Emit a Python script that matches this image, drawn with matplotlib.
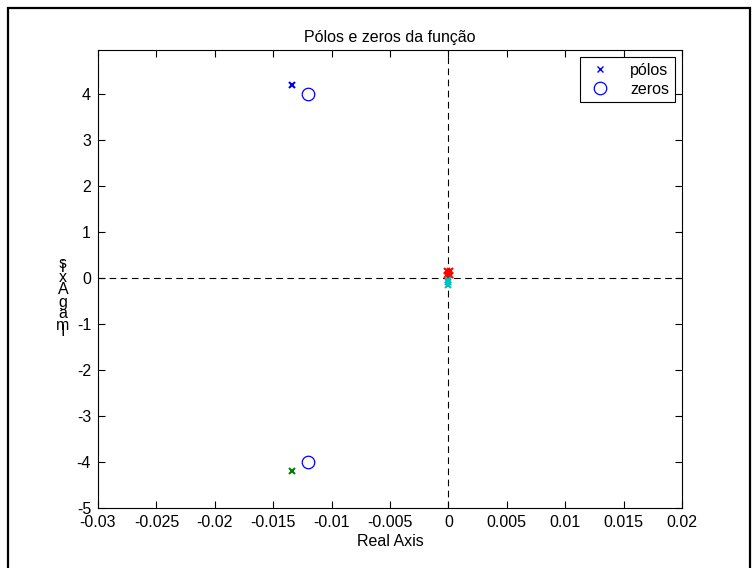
import matplotlib
matplotlib.use("Agg")
import matplotlib.pyplot as plt
from matplotlib.patches import Rectangle

plt.rcParams['font.family'] = ['Liberation Sans', 'DejaVu Sans']
plt.rcParams['axes.unicode_minus'] = False

# poles and zeros
poles_up_re, poles_up_im = [-0.0134], [4.2]
poles_dn_re, poles_dn_im = [-0.0134], [-4.2]
zeros_re = [-0.012, -0.012]
zeros_im = [4.0, -4.0]
near_red_re = [-0.0001, 0.0001, -0.0001, 0.0001]
near_red_im = [0.06, 0.06, 0.14, 0.14]
near_cyan_re = [0.0, 0.0, 0.0]
near_cyan_im = [-0.04, -0.1, -0.16]

xticks = [-0.03, -0.025, -0.02, -0.015, -0.01, -0.005, 0, 0.005, 0.01, 0.015, 0.02]
xticklabels = ['-0.03', '-0.025', '-0.02', '-0.015', '-0.01', '-0.005', '0',
               '0.005', '0.01', '0.015', '0.02']
yticks = [-5, -4, -3, -2, -1, 0, 1, 2, 3, 4]

fig = plt.figure(figsize=(7.54, 5.68), dpi=100)
ax = fig.add_axes([98 / 754, 1 - 508 / 568, 584 / 754, 458 / 568])

# outer frame
fig.patches.append(Rectangle((8 / 754, -0.1), 742 / 754, 1.1 - 8 / 568,
                             transform=fig.transFigure, fill=False,
                             edgecolor='black', linewidth=1.6))

ax.axhline(0, color='black', linestyle=(0, (6, 4)), linewidth=0.8, zorder=1)
ax.axvline(0, color='black', linestyle=(0, (6, 4)), linewidth=0.8, zorder=1)

ax.plot(poles_up_re, poles_up_im, 'x', color='blue', markersize=5, mew=1.5,
        linestyle='none', label='pólos')
ax.plot(zeros_re, zeros_im, 'o', color='blue', mfc='none', markersize=9,
        mew=0.9, linestyle='none', label='zeros')
ax.plot(poles_dn_re, poles_dn_im, 'x', color='green', markersize=5, mew=1.5,
        linestyle='none')
ax.plot(near_red_re, near_red_im, 'x', color='red', markersize=5, mew=1.5,
        linestyle='none')
ax.plot(near_cyan_re, near_cyan_im, 'x', color='#00bfbf', markersize=5, mew=1.5,
        linestyle='none')

ax.set_xlim(-0.03, 0.02)
ax.set_ylim(-5, 4.95)
ax.set_xticks(xticks)
ax.set_xticklabels(xticklabels)
ax.set_yticks(yticks)
ax.tick_params(direction='in', top=True, right=True, length=5, labelsize=11.5,
               width=0.8, pad=5)
for s in ax.spines.values():
    s.set_linewidth(0.8)

ax.set_title('Pólos e zeros da função', fontsize=11.5, pad=6)
ax.set_xlabel('Real Axis', fontsize=11.5, labelpad=3)

# the y label is drawn as a column of upright, overlapping letters
ylabel_chars = ['s', 'i', 'x', 'A', ' ', 'g', 'a', 'm', 'I']
ylabel_rows = [264, 267, 277, 289, 295, 302, 314, 326, 332]
for ch, row in zip(ylabel_chars, ylabel_rows):
    fig.text(63 / 754, 1 - row / 568, ch, ha='center', va='center', fontsize=11.5)

leg = ax.legend(loc='upper right', fontsize=11.5, fancybox=False,
                edgecolor='black', framealpha=1, borderaxespad=0.45,
                handletextpad=1.0, borderpad=0.35, labelspacing=0.25,
                handlelength=1.8)
leg.get_frame().set_linewidth(0.8)
leg.legend_handles[0].set_markersize(4)
leg.legend_handles[0].set_markeredgewidth(1.0)

fig.savefig('out.png', dpi=100)
